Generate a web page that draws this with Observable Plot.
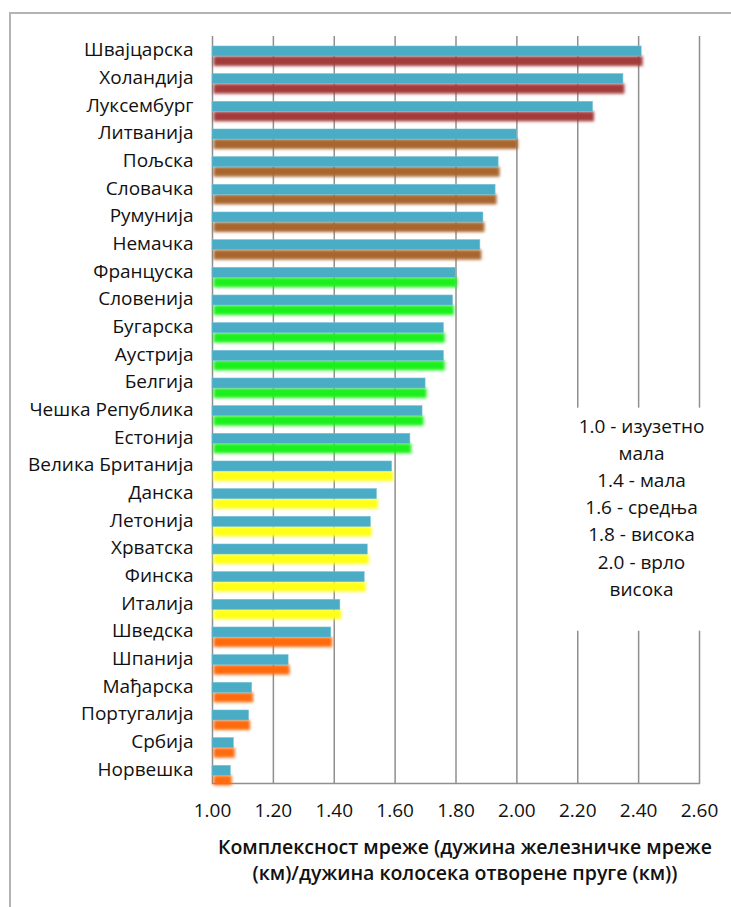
<!DOCTYPE html>
<html><head><meta charset="utf-8">
<script src="https://cdn.jsdelivr.net/npm/d3@7"></script>
<script src="https://cdn.jsdelivr.net/npm/@observablehq/plot@0.6"></script>
<style>
body{margin:0;background:#fff;overflow:hidden}
#wrap{position:relative;width:731px;height:907px;overflow:hidden}
#frame{position:absolute;left:9px;top:12px;width:800px;height:1000px;border-left:2px solid #b4b4b4;border-top:2px solid #b4b4b4;pointer-events:none}
#wrap svg{position:absolute;left:0;top:0}
</style></head><body><div id="wrap"><div id="frame"></div></div>
<script>
const countries = ["Швајцарска","Холандија","Луксембург","Литванија","Пољска","Словачка","Румунија","Немачка","Француска","Словенија","Бугарска","Аустрија","Белгија","Чешка Република","Естонија","Велика Британија","Данска","Летонија","Хрватска","Финска","Италија","Шведска","Шпанија","Мађарска","Португалија","Србија","Норвешка"];
const values = [2.41,2.35,2.25,2.00,1.94,1.93,1.89,1.88,1.80,1.79,1.76,1.76,1.70,1.69,1.65,1.59,1.54,1.52,1.51,1.50,1.42,1.39,1.25,1.13,1.12,1.07,1.06];
const groups = [0,0,0,1,1,1,1,1,2,2,2,2,2,2,2,3,3,3,3,3,3,4,4,4,4,4,4];
const groupColors = ["#a33b3b","#a8662f","#1ef01e","#ffff14","#ff6a10"];
const barColor = "#4bacc6";
const xTicks = [1.0,1.2,1.4,1.6,1.8,2.0,2.2,2.4,2.6];
const axisTitle = "Комплексност мреже (дужина железничке мреже\n(км)/дужина колосека отворене пруге (км))";
const noteText = "1.0 - изузетно\nмала\n1.4 - мала\n1.6 - средња\n1.8 - висока\n2.0 - врло\nвисока";

const rows = countries.map((c, i) => ({country: c, value: values[i], color: groupColors[groups[i]]}));

const plot = Plot.plot({
  width: 731,
  height: 907,
  marginLeft: 212,
  marginRight: 32,
  marginTop: 36,
  marginBottom: 124,
  style: {fontFamily: "'Open Sans', sans-serif", fontSize: "19px", color: "#111", background: "transparent"},
  x: {domain: [1, 2.6], ticks: xTicks, tickFormat: d => d.toFixed(2), tickSize: 0, tickPadding: 20, label: null},
  y: {domain: countries, tickSize: 0, tickPadding: 19, label: null, padding: 0, round: false},
  marks: [
    Plot.ruleX(xTicks, {stroke: "#8f8f8f", strokeWidth: 1.5}),
    Plot.frame({anchor: "bottom", stroke: "#8f8f8f", strokeWidth: 1.5}),
    Plot.barX(rows, {x1: 1, x2: "value", y: "country", fill: "color", insetTop: 10, insetBottom: 7.67, dy: 10, dx: 1.5}),
    Plot.barX(rows, {x1: 1, x2: "value", y: "country", fill: barColor, stroke: "#6fc0d6", strokeWidth: 0.6, insetTop: 10, insetBottom: 7.67}),
    Plot.rect([{a: 1}], {x1: 2.14, x2: 2.72, y1: () => "Чешка Република", y2: () => "Шведска", fill: "white", insetTop: 12, insetBottom: 14}),
    Plot.text([noteText], {frameAnchor: "top-right", dx: -58, dy: 377, lineAnchor: "top", textAnchor: "middle", fontSize: 19, lineHeight: 1.43, fill: "#111"}),
    Plot.text([axisTitle], {frameAnchor: "bottom", lineAnchor: "top", dy: 52, dx: 9, fontSize: 19.5, fontWeight: 600, lineHeight: 1.32, fill: "#111"})
  ],
  color: {type: "identity"}
});

document.getElementById("wrap").appendChild(plot);
const svg = d3.select(plot);
const defs = svg.insert("defs", ":first-child");
defs.append("filter").attr("id", "soft").attr("x", "-5%").attr("y", "-60%").attr("width", "110%").attr("height", "220%")
  .append("feGaussianBlur").attr("stdDeviation", 1.8);
const bars = plot.querySelectorAll('g[aria-label="bar"]');
if (bars.length) bars[0].setAttribute("filter", "url(#soft)");
</script>
</body></html>
